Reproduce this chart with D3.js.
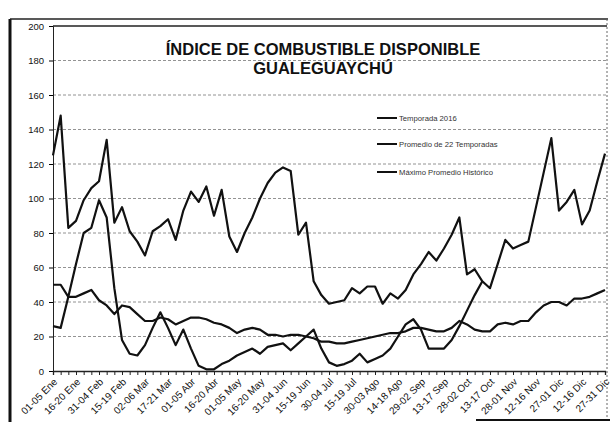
<!DOCTYPE html>
<html>
<head>
<meta charset="utf-8">
<script src="https://cdn.jsdelivr.net/npm/d3@7"></script>
<style>
  body { margin: 0; background: #fff; }
  text { font-family: "Liberation Sans", Arial, sans-serif; }
</style>
</head>
<body>
<div id="chart"></div>
<script>
// pentads of the year, one label every three periods
var tickLabels = ["01-05 Ene", "16-20 Ene", "31-04 Feb", "15-19 Feb", "02-06 Mar",
  "17-21 Mar", "01-05 Abr", "16-20 Abr", "01-05 May", "16-20 May", "31-04 Jun",
  "15-19 Jun", "30-04 Jul", "15-19 Jul", "30-03 Ago", "14-18 Ago", "29-02 Sep",
  "13-17 Sep", "28-02 Oct", "13-17 Oct", "28-01 Nov", "12-16 Nov", "27-01 Dic",
  "12-16 Dic", "27-31 Dic"];
var periodCount = 73;

var seriesNames = ["Temporada 2016", "Promedio de 22 Temporadas", "Máximo Promedio Histórico"];

// season 2016 (ends mid october)
var temporada2016 = [26, 25, 43, 62, 80, 83, 99, 89, 48, 18, 10, 9, 15, 25, 34, 25, 15, 24,
  13, 3, 1, 1, 4, 6, 9, 11, 13, 10, 14, 15, 16, 12, 16, 20, 24, 13, 5, 3, 4, 6, 10, 5, 7,
  9, 13, 20, 27, 30, 24, 13, 13, 13, 18, 26, 35, 44, 52];

// average of 22 seasons
var promedio = [50, 50, 43, 43, 45, 47, 41, 38, 33, 38, 37, 33, 29, 29, 31, 30, 27, 29,
  31, 31, 30, 28, 27, 25, 22, 24, 25, 24, 21, 21, 20, 21, 21, 20, 19, 17, 17, 16, 16, 17,
  18, 19, 20, 21, 22, 22, 23, 25, 25, 24, 23, 23, 25, 29, 27, 24, 23, 23, 27, 28, 27, 29,
  29, 34, 38, 40, 40, 38, 42, 42, 43, 45, 47];

// historical maximum average
var maximo = [125, 148, 83, 87, 99, 106, 110, 134, 86, 95, 81, 75, 67, 81, 84, 88, 76, 93,
  104, 98, 107, 90, 105, 78, 69, 80, 89, 100, 109, 115, 118, 116, 79, 86, 52, 44, 39, 40,
  41, 48, 45, 49, 49, 39, 45, 42, 47, 56, 62, 69, 64, 71, 79, 89, 56, 59, 52, 48, 62, 76,
  71, 73, 75, 95, 115, 135, 93, 98, 105, 85, 93, 110, 126];

var yTicks = [0, 20, 40, 60, 80, 100, 120, 140, 160, 180, 200];

var width = 610, height = 422;
var plot = { left: 53, right: 605, top: 26, bottom: 371 };

var svg = d3.select("#chart").append("svg")
  .attr("width", width)
  .attr("height", height);

// outer frame
svg.append("line").attr("x1", 10).attr("x2", 10).attr("y1", 19).attr("y2", 422)
  .attr("stroke", "#111").attr("stroke-width", 3);
svg.append("line").attr("x1", 10).attr("x2", 608).attr("y1", 19).attr("y2", 19)
  .attr("stroke", "#222").attr("stroke-width", 1.5);
svg.append("line").attr("x1", 607).attr("x2", 607).attr("y1", 19).attr("y2", 420)
  .attr("stroke", "#666").attr("stroke-width", 1).attr("stroke-dasharray", "2,2");
svg.append("line").attr("x1", 476).attr("x2", 610).attr("y1", 420).attr("y2", 420)
  .attr("stroke", "#111").attr("stroke-width", 2);

var x = d3.scalePoint()
  .domain(d3.range(periodCount))
  .range([plot.left, plot.right]);

var y = d3.scaleLinear()
  .domain([0, 200])
  .range([plot.bottom, plot.top]);

// grid lines
svg.append("g").selectAll("line")
  .data(yTicks.slice(1))
  .enter().append("line")
  .attr("x1", plot.left).attr("x2", 607)
  .attr("y1", function(d) { return y(d); })
  .attr("y2", function(d) { return y(d); })
  .attr("stroke", function(d) { return d === 200 ? "#222" : "#777"; })
  .attr("stroke-width", function(d) { return d === 200 ? 1.3 : 0.8; })
  .attr("stroke-dasharray", function(d) { return d === 200 ? null : "3,2"; });

// y axis
var yAxis = svg.append("g")
  .attr("transform", "translate(" + plot.left + ",0)")
  .call(d3.axisLeft(y).tickValues(yTicks).tickSize(4).tickPadding(5));
yAxis.select(".domain").attr("stroke", "#222");
yAxis.selectAll("text").style("font-size", "9.5px").attr("fill", "#111");

// x axis, a tick per period
var xAxis = svg.append("g")
  .attr("transform", "translate(0," + plot.bottom + ")")
  .call(d3.axisBottom(x)
    .tickSize(4)
    .tickFormat(function(d) { return d % 3 === 0 ? tickLabels[d / 3] : ""; }));
xAxis.select(".domain").attr("stroke", "#222").attr("stroke-width", 1.3);
xAxis.selectAll("line").attr("stroke", "#222");
xAxis.selectAll("text")
  .attr("x", 0).attr("y", 0).attr("dy", "0.35em")
  .attr("transform", "translate(2,9) rotate(-45)")
  .style("text-anchor", "end")
  .style("font-size", "10px")
  .attr("fill", "#111");

// lines
var line = d3.line()
  .x(function(d, i) { return x(i); })
  .y(function(d) { return y(d); });

[maximo, promedio, temporada2016].forEach(function(values) {
  svg.append("path")
    .datum(values)
    .attr("fill", "none")
    .attr("stroke", "#111")
    .attr("stroke-width", 2.2)
    .attr("stroke-linejoin", "round")
    .attr("d", line);
});

// title
var title = svg.append("g").attr("font-weight", "bold").attr("fill", "#111")
  .style("font-size", "16.5px").attr("text-anchor", "middle");
title.append("text").attr("x", 323).attr("y", 55).text("ÍNDICE DE COMBUSTIBLE DISPONIBLE");
title.append("text").attr("x", 323).attr("y", 74).text("GUALEGUAYCHÚ");

// legend
var legendY = [118, 144, 172];
var legend = svg.append("g").selectAll("g")
  .data(seriesNames)
  .enter().append("g")
  .attr("transform", function(d, i) { return "translate(377," + legendY[i] + ")"; });
legend.append("line")
  .attr("x1", 0).attr("x2", 20)
  .attr("stroke", "#111").attr("stroke-width", 2);
legend.append("text")
  .attr("x", 22).attr("dy", "0.35em")
  .style("font-size", "7.7px")
  .attr("fill", "#333")
  .text(function(d) { return d; });
</script>
</body>
</html>
